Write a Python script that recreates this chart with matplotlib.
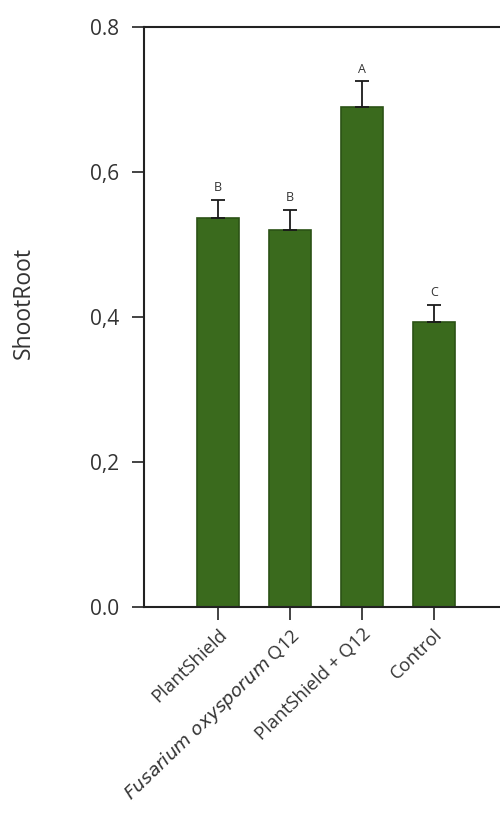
import matplotlib
matplotlib.use("Agg")
import matplotlib.pyplot as plt

categories = ["PlantShield", r"$\it{Fusarium\ oxysporum}$ Q12", "PlantShield + Q12", "Control"]
values = [0.537, 0.520, 0.689, 0.393]
errors = [0.025, 0.028, 0.036, 0.024]
letters = ["B", "B", "A", "C"]
yticks = [0.0, 0.2, 0.4, 0.6, 0.8]
ytick_labels = ["0.0", "0,2", "0,4", "0,6", "0.8"]

plt.rcParams['font.family'] = ['Open Sans', 'DejaVu Sans']

fig = plt.figure(figsize=(5.0, 8.15), dpi=100)
ax = fig.add_axes([0.288, 0.2552, 0.712, 0.7117])

x = list(range(len(categories)))
ax.bar(x, values, width=0.58, color='#3a6a1d', edgecolor='#2b5215', linewidth=1.2, zorder=2)
ax.errorbar(x, values, yerr=[[0] * len(errors), errors], fmt='none', ecolor='#1a1a1a',
            elinewidth=1.3, capsize=5, capthick=1.3, zorder=3)
for xi, v, e, l in zip(x, values, errors, letters):
    ax.text(xi, v + e + 0.008, l, ha='center', va='bottom', fontsize=9, color='#333333')

ax.set_xlim(-1.03, 3.92)
ax.set_ylim(0, 0.8)
ax.set_yticks(yticks)
ax.set_yticklabels(ytick_labels, fontsize=15, color='#333333')
ax.set_xticks(x)
ax.set_xticklabels(categories, rotation=44, ha='right', rotation_mode='anchor',
                   fontsize=13.3, color='#333333')
ax.tick_params(axis='both', direction='out', length=9, width=1.2, color='#222222', pad=4)
ax.tick_params(axis='y', pad=9)
ax.set_ylabel("ShootRoot", fontsize=16.5, color='#333333')
ax.yaxis.set_label_coords(-0.303, 0.524)
for s in ['left', 'bottom', 'top']:
    ax.spines[s].set_linewidth(1.5)
    ax.spines[s].set_color('#222222')
ax.spines['right'].set_visible(False)

fig.savefig("out.png", dpi=100)
